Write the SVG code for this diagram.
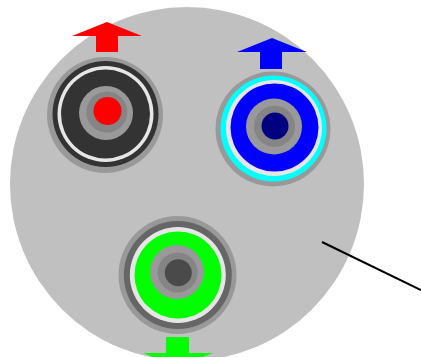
<svg xmlns="http://www.w3.org/2000/svg" width="421" height="357" viewBox="0 0 421 357">
  <style>
    .shadow { fill: #999999; }
    .white { fill: #e6e6e6; }
    .g1 { fill: #999999; }
    .g2 { fill: #858585; }
    .line { stroke: #000000; stroke-width: 2; fill: none; }
  </style>
  <rect width="421" height="357" fill="#ffffff"/>
  <g id="body">
    <circle cx="187" cy="184" r="177" fill="#c0c0c0"/>
  </g>
  <g id="jack-red">
    <polygon points="107,22 142,36 118,36 118,52 96,52 96,36 72,36" fill="#ff0000"/>
    <circle class="shadow" cx="105" cy="115" r="58"/>
    <circle cx="105.5" cy="114" r="53" fill="#333333"/>
    <circle class="white" cx="105.5" cy="114" r="48"/>
    <circle cx="105.5" cy="114" r="44.5" fill="#333333"/>
    <circle class="g1" cx="106" cy="113" r="27"/>
    <circle class="g2" cx="106.8" cy="112" r="20.5"/>
    <circle cx="107.5" cy="111" r="14" fill="#ff0000"/>
  </g>
  <g id="jack-blue">
    <polygon points="272,38 307,52 282,52 282,69 260,69 260,52 237,52" fill="#0000ff"/>
    <circle class="shadow" cx="273" cy="129" r="57.5"/>
    <circle cx="273.5" cy="128.5" r="53" fill="#00ffff"/>
    <circle class="white" cx="274" cy="128" r="48"/>
    <circle cx="274.5" cy="127.5" r="44" fill="#0000ff"/>
    <circle class="g1" cx="274" cy="126.5" r="28"/>
    <circle class="g2" cx="274.5" cy="126.3" r="20.5"/>
    <circle cx="275" cy="126" r="13.5" fill="#000080"/>
  </g>
  <g id="jack-green">
    <polygon points="166,337 189,337 189,353 213,353 178,367 143,353 166,353" fill="#00ff00"/>
    <circle class="shadow" cx="177.5" cy="275" r="59"/>
    <circle cx="177.8" cy="275" r="54" fill="#666666"/>
    <circle class="white" cx="177.8" cy="275" r="48"/>
    <circle cx="178" cy="275" r="43.5" fill="#00ff00"/>
    <circle class="g1" cx="177" cy="272" r="27"/>
    <circle class="g2" cx="177.6" cy="272.4" r="20"/>
    <circle cx="178.3" cy="272.7" r="13.5" fill="#4a4a4a"/>
  </g>
  <g id="connectors">
    <line class="line" x1="322" y1="242" x2="421" y2="290"/>
  </g>
</svg>
